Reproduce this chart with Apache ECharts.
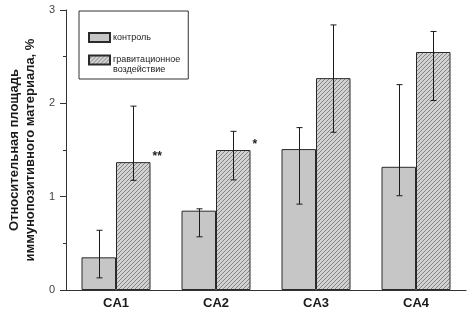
<!DOCTYPE html>
<html>
<head>
<meta charset="utf-8">
<script src="https://cdn.jsdelivr.net/npm/echarts@6/dist/echarts.min.js"></script>
<style>
  html, body { margin: 0; padding: 0; background: #fff; }
  #chart { width: 473px; height: 317px; }
</style>
</head>
<body>
<div id="chart"></div>
<script>
// data
var categories = ['CA1', 'CA2', 'CA3', 'CA4'];
var seriesNames = ['контроль', 'гравитационное воздействие'];
var controlValues = [0.35, 0.85, 1.51, 1.32];
var controlLow = [0.13, 0.57, 0.92, 1.01];
var controlHigh = [0.64, 0.87, 1.74, 2.20];
var gravValues = [1.37, 1.50, 2.27, 2.55];
var gravLow = [1.175, 1.18, 1.69, 2.03];
var gravHigh = [1.97, 1.70, 2.84, 2.77];
var gravMarks = ['**', '*', '', ''];
var yTicks = [0, 1, 2, 3];

// diagonal hatching tile
function hatch() {
  var c = document.createElement('canvas');
  c.width = 4; c.height = 4;
  var g = c.getContext('2d');
  g.fillStyle = '#d2d2d2';
  g.fillRect(0, 0, 4, 4);
  g.strokeStyle = '#858585';
  g.lineWidth = 1;
  g.beginPath();
  g.moveTo(0, 4); g.lineTo(4, 0);
  g.moveTo(-1, 1); g.lineTo(1, -1);
  g.moveTo(3, 5); g.lineTo(5, 3);
  g.stroke();
  return { image: c, repeat: 'repeat' };
}

var barRatio = 0.345;

function errorRender(side) {
  return function (params, api) {
    var i = api.value(0);
    var lo = api.coord([i, api.value(1)]);
    var hi = api.coord([i, api.value(2)]);
    var bw = api.size([1, 0])[0] * barRatio;
    var cx = Math.round(lo[0] + side * bw / 2) + 0.5;
    var st = { stroke: '#1a1a1a', lineWidth: 1 };
    return {
      type: 'group',
      children: [
        { type: 'line', shape: { x1: cx, y1: hi[1], x2: cx, y2: lo[1] }, style: st },
        { type: 'line', shape: { x1: cx - 3, y1: hi[1], x2: cx + 3, y2: hi[1] }, style: st },
        { type: 'line', shape: { x1: cx - 3, y1: lo[1], x2: cx + 3, y2: lo[1] }, style: st }
      ]
    };
  };
}

function markRender(params, api) {
  var i = api.value(0);
  var p = api.coord([i, api.value(1)]);
  var bw = api.size([1, 0])[0] * barRatio;
  return {
    type: 'text',
    x: p[0] + bw + 2,
    y: p[1] + 1,
    style: {
      text: gravMarks[i],
      font: 'bold 12px Arial',
      fill: '#222',
      align: 'left',
      verticalAlign: 'bottom'
    }
  };
}

var chart = echarts.init(document.getElementById('chart'));
chart.setOption({
  animation: false,
  backgroundColor: '#fff',
  textStyle: { fontFamily: 'Arial' },
  grid: { left: 66, right: 7, top: 10, bottom: 27, outerBoundsMode: 'none', containLabel: false },
  legend: {
    data: seriesNames,
    orient: 'vertical',
    left: 79,
    top: 11,
    padding: [21, 8, 4, 9],
    itemGap: 2,
    itemWidth: 21,
    itemHeight: 9,
    icon: 'rect',
    borderColor: '#333',
    borderWidth: 1,
    selectedMode: false,
    textStyle: { fontSize: 9, color: '#222', lineHeight: 10, padding: [0, 0, 0, -2] },
    formatter: function (n) {
      return n === seriesNames[1] ? '\nгравитационное\nвоздействие' : n;
    }
  },
  xAxis: {
    type: 'category',
    data: categories,
    axisLine: { lineStyle: { color: '#333', width: 1 } },
    axisTick: { show: false },
    axisLabel: { fontSize: 13, fontWeight: 'bold', color: '#1a1a1a', margin: 7 }
  },
  yAxis: {
    type: 'value',
    min: yTicks[0],
    max: yTicks[yTicks.length - 1],
    interval: 1,
    name: 'Относительная площадь\nиммунопозитивного материала, %',
    nameLocation: 'middle',
    nameRotate: 90,
    nameGap: 23,
    nameTextStyle: { fontSize: 13, fontWeight: 'bold', color: '#1a1a1a', lineHeight: 16 },
    axisLine: { show: true, lineStyle: { color: '#333', width: 1 } },
    axisTick: { show: true, length: 6, lineStyle: { color: '#333' } },
    minorTick: { show: true, splitNumber: 2, length: 3, lineStyle: { color: '#333' } },
    splitLine: { show: false },
    axisLabel: { fontSize: 11, color: '#444', margin: 11 }
  },
  series: [
    {
      name: seriesNames[0],
      type: 'bar',
      data: controlValues,
      barWidth: (barRatio * 100) + '%',
      barGap: '0%',
      itemStyle: { color: '#c6c6c6', borderColor: '#2a2a2a', borderWidth: 1 }
    },
    {
      name: seriesNames[1],
      type: 'bar',
      data: gravValues,
      barWidth: (barRatio * 100) + '%',
      barGap: '0%',
      itemStyle: { color: hatch(), borderColor: '#2a2a2a', borderWidth: 1 }
    },
    {
      type: 'custom',
      renderItem: errorRender(-1),
      z: 5,
      data: categories.map(function (c, i) { return [i, controlLow[i], controlHigh[i]]; })
    },
    {
      type: 'custom',
      renderItem: errorRender(1),
      z: 5,
      data: categories.map(function (c, i) { return [i, gravLow[i], gravHigh[i]]; })
    },
    {
      type: 'custom',
      renderItem: markRender,
      z: 5,
      data: categories.map(function (c, i) { return [i, gravValues[i]]; })
    }
  ]
});
</script>
</body>
</html>
